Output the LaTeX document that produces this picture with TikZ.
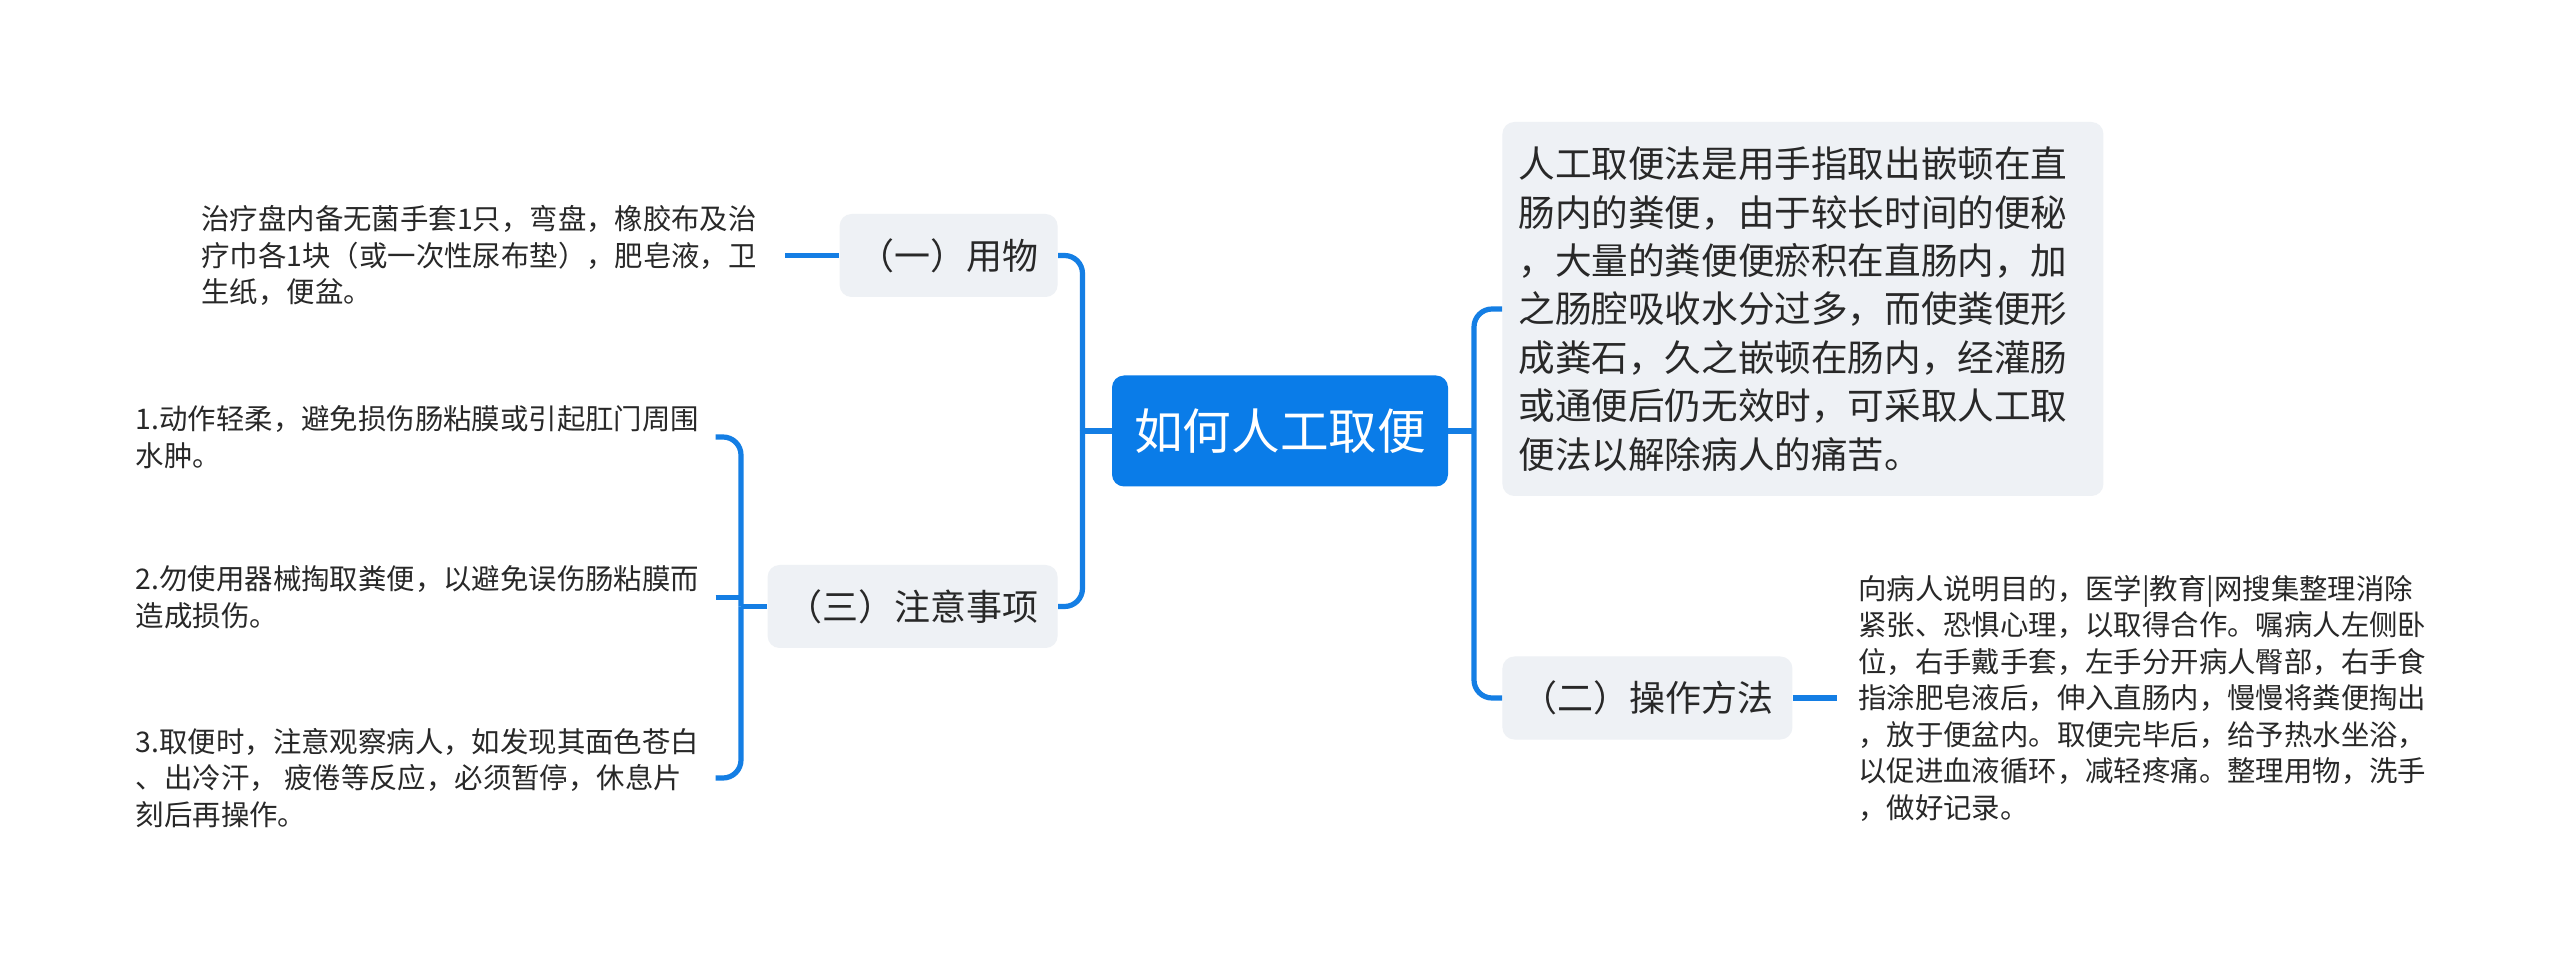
\documentclass[tikz,border=0pt]{standalone}
\usepackage{fontspec}
\setmainfont{Noto Sans CJK SC}
\usepackage{tikz}
\usetikzlibrary{positioning}
\definecolor{mapblue}{RGB}{10,124,232}
\definecolor{linkblue}{RGB}{20,126,228}
\definecolor{cardgray}{RGB}{238,241,245}
\definecolor{inkgray}{RGB}{40,40,40}

\begin{document}
\begin{tikzpicture}[
    x=0.5pt, y=-0.5pt,
    root/.style={fill=mapblue, text=white, rounded corners=6pt, minimum width=168pt, minimum height=55.5pt, font=\fontsize{24.3}{29}\selectfont},
    topic/.style={fill=cardgray, text=inkgray, rounded corners=6pt, minimum height=41.5pt, inner xsep=9.5pt, font=\fontsize{18}{22}\selectfont},
    card/.style={fill=cardgray, text=inkgray, rounded corners=6pt, text width=284.5pt, inner xsep=8pt, minimum height=187pt, align=left, font=\fontsize{18.3}{24.2}\selectfont},
    note/.style={text=inkgray, align=left, inner xsep=8pt, inner ysep=0pt, font=\fontsize{14.2}{18.25}\selectfont},
    link/.style={draw=linkblue, line width=2.6pt, rounded corners=9pt}
]
\path[use as bounding box, fill=white] (0,0) rectangle (2560,967);

\node[root] (root) at (1280,431) {如何人工取便};
\node[card, anchor=west] (intro) at (1502,309) {人工取便法是用手指取出嵌顿在直\\
肠内的粪便，由于较长时间的便秘\\
，大量的粪便便瘀积在直肠内，加\\
之肠腔吸收水分过多，而使粪便形\\
成粪石，久之嵌顿在肠内，经灌肠\\
或通便后仍无效时，可采取人工取\\
便法以解除病人的痛苦。};
\node[topic, anchor=west] (erbox) at (1502,698) {（二）操作方法};
\node[topic, anchor=east] (yongwu) at (1058,255.5) {（一）用物};
\node[topic, anchor=east] (sanbox) at (1058,606.5) {（三）注意事项};

\node[note, inner xsep=14pt, left=27pt of yongwu] (wunote) {治疗盘内备无菌手套1只，弯盘，橡胶布及治\\
疗巾各1块（或一次性尿布垫），肥皂液，卫\\
生纸，便盆。};
\node[note, inner xsep=10.5pt, right=22pt of erbox] (fanote) {向病人说明目的，医学|教育|网搜集整理消除\\
紧张、恐惧心理，以取得合作。嘱病人左侧卧\\
位，右手戴手套，左手分开病人臀部，右手食\\
指涂肥皂液后，伸入直肠内，慢慢将粪便掏出\\
，放于便盆内。取便完毕后，给予热水坐浴，\\
以促进血液循环，减轻疼痛。整理用物，洗手\\
，做好记录。};
\node[note, anchor=west] (tip1) at (119.5,437) {1.动作轻柔，避免损伤肠粘膜或引起肛门周围\\
水肿。};
\node[note, anchor=west] (tip2) at (119.5,597.5) {2.勿使用器械掏取粪便，以避免误伤肠粘膜而\\
造成损伤。};
\node[note, anchor=west] (tip3) at (119.5,778) {3.取便时，注意观察病人，如发现其面色苍白\\
、出冷汗， 疲倦等反应，必须暂停，休息片\\
刻后再操作。};

\coordinate (lhub) at (1082.5,431);
\coordinate (rhub) at (1474,431);
\coordinate (shub) at (741,606.5);

\draw[link] (root.west) -- (lhub);
\draw[link] (lhub) |- (yongwu.east);
\draw[link] (lhub) |- (sanbox.east);
\draw[link] (root.east) -- (rhub);
\draw[link] (rhub) |- (intro.west);
\draw[link] (rhub) |- (erbox.west);
\draw[link] (wunote.east) -- (yongwu.west);
\draw[link] (erbox.east) -- (fanote.west);
\draw[link] (sanbox.west) -- (shub);
\draw[link] (shub) |- (tip1.east);
\draw[link] (shub) |- (tip3.east);
\draw[link] (tip2.east) -- (tip2.east -| shub);
\end{tikzpicture}
\end{document}
